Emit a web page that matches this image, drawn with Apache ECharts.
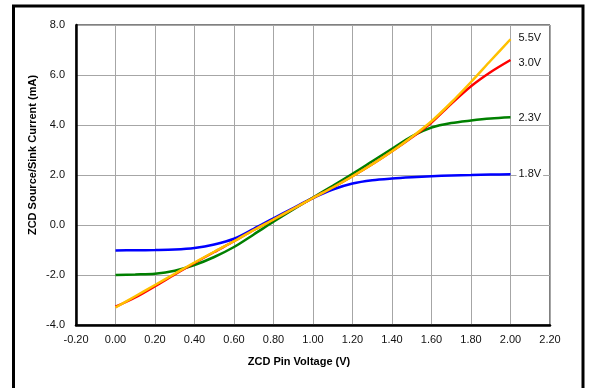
<!DOCTYPE html>
<html>
<head>
<meta charset="utf-8">
<script src="https://cdn.jsdelivr.net/npm/echarts@6/dist/echarts.min.js"></script>
<style>
  html, body { margin: 0; padding: 0; background: #fff; }
  #chart { width: 589px; height: 388px; }
</style>
</head>
<body>
<div id="chart"></div>
<script>
  // ZCD pin voltage (V)
  const xVals = [0.0, 0.1, 0.2, 0.3, 0.4, 0.5, 0.6, 0.7, 0.8, 0.9, 1.0,
                 1.1, 1.2, 1.3, 1.4, 1.5, 1.6, 1.7, 1.8, 1.9, 2.0];

  // source/sink current (mA) per supply voltage
  const v18 = [-1.02, -1.01, -1.0, -0.98, -0.92, -0.78, -0.55, -0.15, 0.27, 0.68, 1.08,
               1.42, 1.66, 1.79, 1.86, 1.91, 1.95, 1.98, 2.0, 2.02, 2.03];
  const v23 = [-2.0, -1.98, -1.95, -1.83, -1.6, -1.28, -0.88, -0.38, 0.13, 0.62, 1.1,
               1.57, 2.05, 2.55, 3.05, 3.55, 3.9, 4.08, 4.18, 4.26, 4.31];
  const v30 = [-3.27, -2.9, -2.45, -1.98, -1.52, -1.08, -0.65, -0.2, 0.22, 0.65, 1.08,
               1.5, 1.95, 2.43, 2.95, 3.5, 4.1, 4.85, 5.55, 6.12, 6.6];
  const v55 = [-3.3, -2.85, -2.4, -1.95, -1.5, -1.07, -0.65, -0.2, 0.22, 0.65, 1.08,
               1.5, 1.95, 2.43, 2.95, 3.52, 4.15, 4.9, 5.72, 6.58, 7.43];

  const seriesNames = ['1.8V', '2.3V', '3.0V', '5.5V'];
  const seriesData = [v18, v23, v30, v55];
  const colors = ['#0000ff', '#008000', '#ff0000', '#ffc000'];
  const labelOffsets = [[0, 0], [0, 1], [0, 3], [0, -1]];

  const chart = echarts.init(document.getElementById('chart'));
  const font = 'Arial, "Liberation Sans", sans-serif';

  const option = {
    animation: false,
    grid: {
      left: 76, right: 39, top: 25, bottom: 63,
      show: true, borderColor: '#000', borderWidth: 1, backgroundColor: 'transparent',
    },
    xAxis: {
      type: 'value',
      min: -0.2, max: 2.2, interval: 0.2,
      axisLine: { onZero: false, lineStyle: { color: '#000', width: 2.5 } },
      axisTick: { show: false },
      axisLabel: {
        color: '#111', fontSize: 11, fontFamily: font, margin: 9,
        formatter: (v) => v.toFixed(2),
      },
      splitLine: { show: true, lineStyle: { color: '#a6a6a6', width: 1 } },
    },
    yAxis: {
      type: 'value',
      min: -4, max: 8, interval: 2,
      axisLine: { show: true, onZero: false, lineStyle: { color: '#000', width: 2.5 } },
      axisTick: { show: false },
      axisLabel: {
        color: '#111', fontSize: 11, fontFamily: font, margin: 11,
        formatter: (v) => v.toFixed(1),
      },
      splitLine: { show: true, lineStyle: { color: '#a6a6a6', width: 1 } },
    },
    graphic: [
      {
        type: 'rect', silent: true,
        shape: { x: 13.5, y: 6, width: 569.5, height: 390 },
        style: { fill: 'none', stroke: '#000', lineWidth: 3 },
      },
      {
        type: 'text', x: 299, y: 362,
        style: {
          text: 'ZCD Pin Voltage (V)', font: 'bold 11px ' + font,
          fill: '#000', align: 'center', verticalAlign: 'middle',
        },
      },
      {
        type: 'text', x: 33, y: 155, rotation: Math.PI / 2,
        style: {
          text: 'ZCD Source/Sink Current (mA)', font: 'bold 11px ' + font,
          fill: '#000', align: 'center', verticalAlign: 'middle',
        },
      },
    ],
    series: seriesData.map((arr, i) => ({
      name: seriesNames[i],
      type: 'line',
      data: xVals.map((x, j) => [x, arr[j]]),
      smooth: 0.3,
      showSymbol: false,
      lineStyle: { color: colors[i], width: 2.5 },
      itemStyle: { color: colors[i] },
      endLabel: {
        show: true,
        formatter: seriesNames[i],
        color: '#111', fontSize: 11, fontFamily: font,
        backgroundColor: '#fff', padding: [1, 2],
        distance: 6,
        offset: labelOffsets[i],
      },
      z: 2 + i,
    })),
  };

  chart.setOption(option);
</script>
</body>
</html>
